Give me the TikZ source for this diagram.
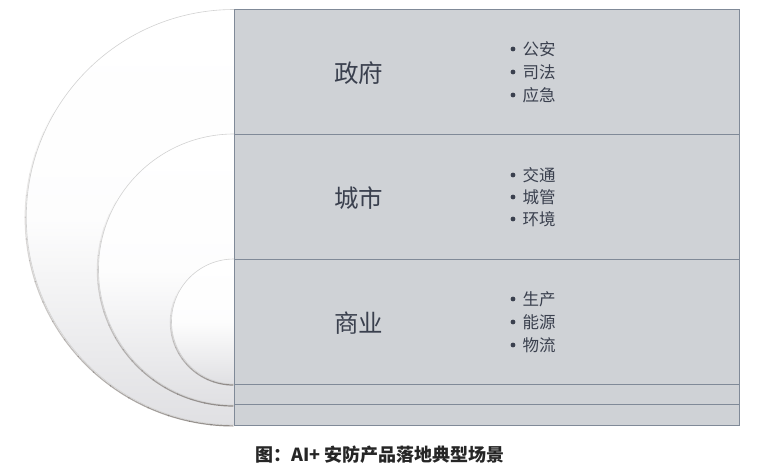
\documentclass[tikz,border=0pt]{standalone}
\usepackage{fontspec}
\setmainfont{Noto Sans CJK SC}
\usetikzlibrary{calc}
\definecolor{panel}{RGB}{207,210,214}
\definecolor{rule}{RGB}{128,138,152}
\definecolor{ink}{RGB}{58,64,78}
\definecolor{discbot}{RGB}{224,224,227}
\definecolor{shade1}{RGB}{128,122,118}
\tikzset{
  disc/.style={shade, top color=white, bottom color=discbot, middle color=white!94!discbot},
  rim/.style={draw=gray!35, line width=0.6pt},
  shadowrim/.style={draw=shade1, line width=1.2pt},
  title/.style={text=ink, font=\fontsize{24.5}{28}\selectfont, inner sep=0pt},
  item/.style={text=ink, font=\fontsize{16.5}{19}\selectfont, inner sep=0pt, anchor=west},
  bul/.style={circle, fill=ink, inner sep=0pt, minimum size=4.8pt},
}
\newcommand{\halfdisc}[3]{% x, top y, radius
  \path[disc] (#1,#2) arc[start angle=270, end angle=90, radius=#3] -- cycle;
  \draw[rim] (#1,#2) arc[start angle=270, end angle=90, radius=#3];
  \foreach \a in {90,96,...,204}{
    \pgfmathsetmacro\op{max(0,0.85*(1-(\a-90)/120))}
    \draw[shadowrim, draw opacity=\op] ($(#1-0.7,#2+#3+0.6)+(\a:#3+0.4)$) arc[start angle=\a, delta angle=6.3, radius=#3+0.4];
  }
}
\begin{document}
\begin{tikzpicture}[x=1pt,y=-1pt]
\useasboundingbox (0,0) rectangle (782,474);
\halfdisc{234}{9.5}{207.7}
\halfdisc{234}{134}{135.5}
\halfdisc{234}{259}{62.5}
% panel
\path[fill=panel] (234,9.5) rectangle (739.5,425);
\draw[rule, line width=0.9pt] (234,9.5) rectangle (739.5,425);
\foreach \yy in {134,259.3,384,404.7}
  \draw[rule, line width=0.9pt] (234,\yy) -- (739.5,\yy);
% titles
\node[title] (gov) at (358.5,73.5) {政府};
\node[title] (city) at (358.5,198) {城市};
\node[title] (biz) at (358.5,323) {商业};
% bullets
\foreach \n/\yy/\t in {a/49/公安, b/72/司法, c/95/应急, d/175/交通, e/197/城管, f/219/环境, g/299/生产, h/322/能源, i/345/物流}{
  \node[bul] (b\n) at (513,\yy) {};
  \node[item] (t\n) at (522.5,\yy) {\t};
}
% caption
\node[font=\fontsize{18}{21}\selectfont\bfseries, text=black!85, inner sep=0pt] (cap) at (380,455) {图：AI+ 安防产品落地典型场景};
\end{tikzpicture}
\end{document}
